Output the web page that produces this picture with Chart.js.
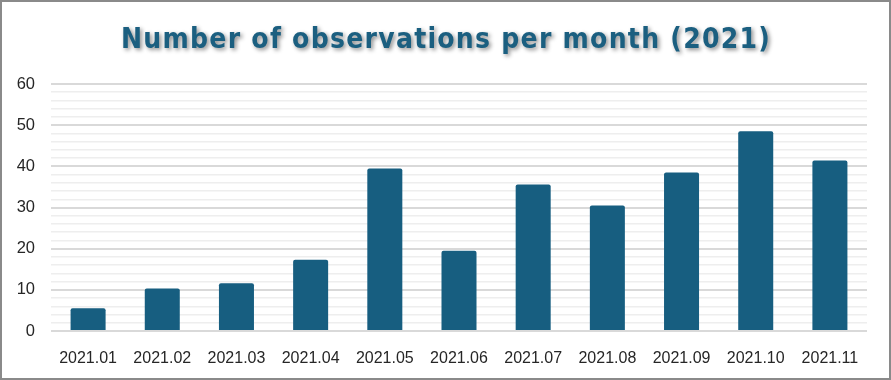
<!DOCTYPE html>
<html>
<head>
<meta charset="utf-8">
<script src="https://cdn.jsdelivr.net/npm/chart.js@4/dist/chart.umd.min.js"></script>
<style>
  html, body { margin: 0; padding: 0; background: #fff; }
  #wrap { width: 891px; height: 380px; box-sizing: border-box; border: 2px solid #8a8a8a; background: #fff; }
  canvas { display: block; }
</style>
</head>
<body>
<div id="wrap"><canvas id="c" width="887" height="376"></canvas></div>
<script>
const titleText = 'Number of observations per month (2021)';
const categories = ['2021.01','2021.02','2021.03','2021.04','2021.05','2021.06','2021.07','2021.08','2021.09','2021.10','2021.11'];
const observations = [5.5, 10.3, 11.6, 17.3, 39.5, 19.5, 35.6, 30.5, 38.5, 48.5, 41.4];
const yMin = 0, yMax = 60, yStep = 2, yLabelStep = 10;

const barColor = '#175e80';

const titleStyle = {
  id: 'titleStyle',
  beforeDraw(chart) {
    const tb = chart.titleBlock;
    if (tb && !tb._patched) {
      const orig = tb.draw.bind(tb);
      tb.draw = function () {
        const ctx = chart.ctx;
        ctx.save();
        ctx.translate(11.5, 0);
        ctx.shadowColor = 'rgba(0,0,0,0.45)';
        ctx.shadowBlur = 4;
        ctx.shadowOffsetX = 2;
        ctx.shadowOffsetY = 2;
        ctx.letterSpacing = '1.25px';
        orig();
        ctx.restore();
      };
      tb._patched = true;
    }
  }
};

new Chart(document.getElementById('c'), {
  type: 'bar',
  data: {
    labels: categories,
    datasets: [{
      data: observations,
      backgroundColor: barColor,
      borderWidth: 0,
      borderRadius: 2,
      borderSkipped: 'bottom',
      categoryPercentage: 1,
      barPercentage: 0.472
    }]
  },
  plugins: [titleStyle],
  options: {
    responsive: false,
    animation: false,
    layout: { padding: { left: 0, right: 22, top: 0, bottom: 0 } },
    plugins: {
      legend: { display: false },
      tooltip: { enabled: false },
      title: {
        display: true,
        text: titleText,
        color: '#1b5f80',
        font: { family: "'Liberation Sans Narrow', 'DejaVu Sans Condensed', sans-serif", size: 28, weight: 'bold' },
        padding: { top: 22, bottom: 26.4 }
      }
    },
    scales: {
      x: {
        grid: { display: false, drawTicks: false },
        border: { display: false },
        ticks: {
          color: '#262626',
          font: { family: "'Liberation Sans', Arial, sans-serif", size: 16 },
          padding: 18,
          maxRotation: 0
        },
        afterFit(scale) { scale.height = 47; }
      },
      y: {
        min: yMin,
        max: yMax,
        border: { display: false },
        grid: {
          drawTicks: false,
          color: (ctx) => (ctx.tick && ctx.tick.value % yLabelStep === 0) ? '#d9d9d9' : '#eeeeee',
          lineWidth: (ctx) => (ctx.tick && ctx.tick.value % yLabelStep === 0) ? 2 : 1.5
        },
        ticks: {
          stepSize: yStep,
          autoSkip: false,
          color: '#262626',
          font: { family: "'Liberation Sans', Arial, sans-serif", size: 16.5 },
          padding: 16,
          callback: (v) => (v % yLabelStep === 0 ? String(v) : '')
        },
        afterFit(scale) { scale.width = 49; }
      }
    }
  }
});
</script>
</body>
</html>
